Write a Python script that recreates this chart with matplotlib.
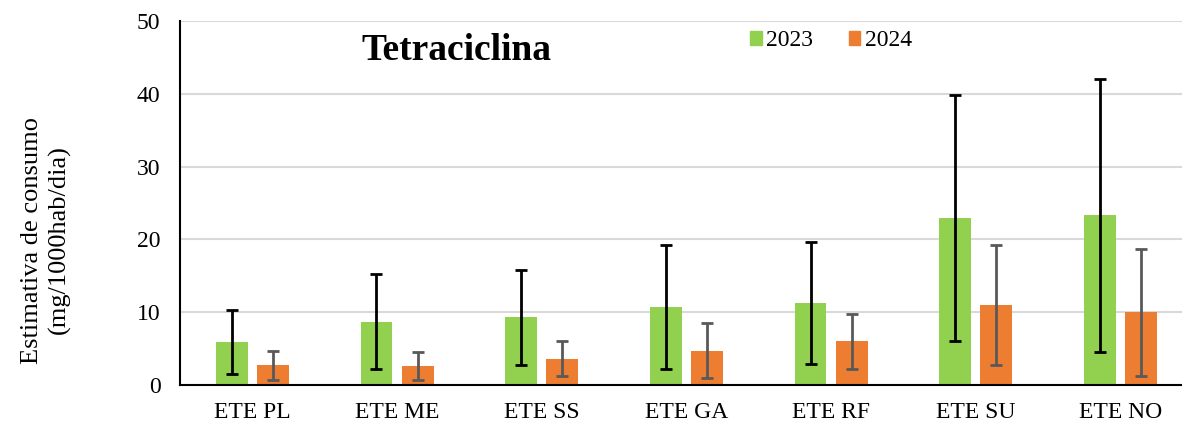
import numpy as np
import matplotlib
matplotlib.use("Agg")
import matplotlib.pyplot as plt
from matplotlib.patches import Patch

plt.rcParams['font.family'] = ['Liberation Serif', 'DejaVu Serif']

# Données
categories = ["ETE PL", "ETE ME", "ETE SS", "ETE GA", "ETE RF", "ETE SU", "ETE NO"]
valeurs_2023 = [5.9, 8.7, 9.3, 10.75, 11.25, 23.0, 23.3]
erreur_2023 = [4.4, 6.55, 6.5, 8.5, 8.4, 16.9, 18.7]
valeurs_2024 = [2.7, 2.65, 3.6, 4.7, 6.0, 11.0, 10.0]
erreur_2024 = [2.0, 1.95, 2.4, 3.8, 3.8, 8.25, 8.75]

vert = "#92D050"
orange = "#ED7D31"

fig = plt.figure(figsize=(11.82, 4.25), dpi=100)
ax = fig.add_axes([180 / 1182, 1 - 385 / 425, 1 - 180 / 1182, (385 - 21) / 425])

x = np.arange(len(categories))
decalage = 0.142
largeur = 0.22

ax.bar(x - decalage, valeurs_2023, largeur, color=vert, zorder=2)
ax.bar(x + decalage, valeurs_2024, largeur, color=orange, zorder=2)
ax.errorbar(x - decalage, valeurs_2023, yerr=erreur_2023, fmt="none",
            ecolor="black", elinewidth=2, capsize=4.5, capthick=2, zorder=3)
ax.errorbar(x + decalage, valeurs_2024, yerr=erreur_2024, fmt="none",
            ecolor="#595959", elinewidth=2, capsize=4.5, capthick=2, zorder=3)

ax.set_xlim(-0.5, 6.425)
ax.set_ylim(0, 50)
ax.set_yticks([0, 10, 20, 30, 40, 50])
ax.set_xticks(x)
ax.set_xticklabels(categories)
ax.tick_params(axis="both", length=0, labelsize=17)
ax.tick_params(axis="x", pad=12)
ax.tick_params(axis="y", pad=14)
ax.yaxis.grid(True, color="#D9D9D9", linewidth=1.5, zorder=0)
ax.set_axisbelow(True)

for cote in ["top", "right"]:
    ax.spines[cote].set_visible(False)
ax.spines["left"].set_linewidth(1.5)
ax.spines["bottom"].set_linewidth(1.5)

# Titre de l'axe Y (deux lignes centrées)
fig.text(46 / 1182, 1 - 240 / 425, "Estimativa de consumo\n(mg/1000hab/dia)",
         fontsize=19, rotation=90, ha="center", va="center", linespacing=1.3)

fig.text(456 / 1182, 1 - 50 / 425, "Tetraciclina", fontsize=27, fontweight="bold",
         ha="center", va="center")

legende = [Patch(color=vert, label="2023"), Patch(color=orange, label="2024")]
fig.legend(handles=legende, loc="center", bbox_to_anchor=(831 / 1182, 1 - 41 / 425),
           ncol=2, frameon=False, fontsize=17, handlelength=0.5, handleheight=0.5,
           handletextpad=0.2, columnspacing=1.5)

fig.savefig("out.png", dpi=100)
